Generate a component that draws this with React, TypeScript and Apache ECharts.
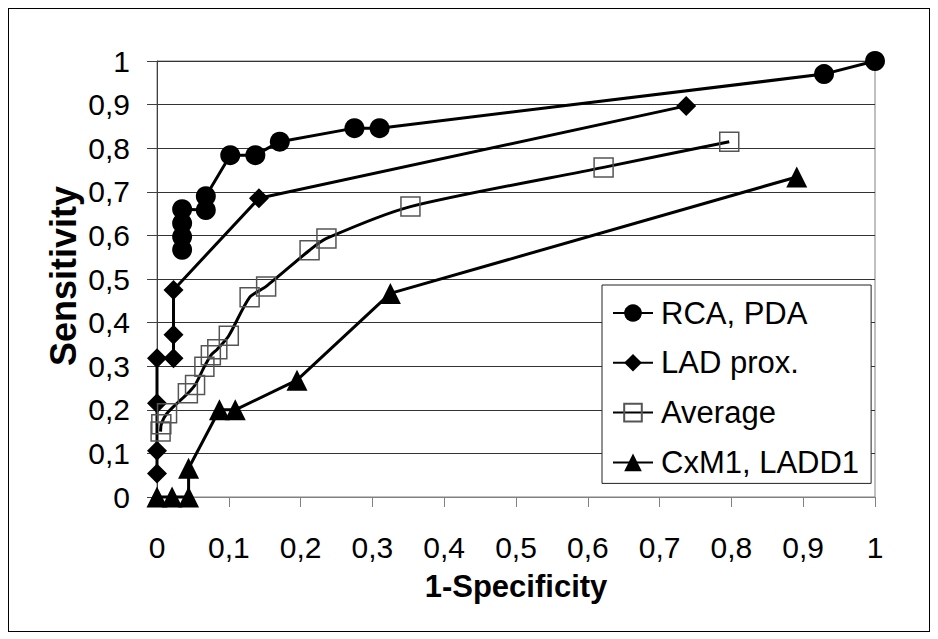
import React, { useEffect, useRef } from 'react';
import * as echarts from 'echarts';

const seriesNames = ['RCA, PDA', 'LAD prox.', 'Average', 'CxM1, LADD1'];

const rcaX = [0.035, 0.035, 0.035, 0.035, 0.068, 0.068, 0.102, 0.137, 0.171, 0.275, 0.31, 0.929, 1];
const rcaY = [0.567, 0.597, 0.628, 0.66, 0.658, 0.69, 0.784, 0.784, 0.815, 0.846, 0.846, 0.97, 1];

const ladX = [0, 0, 0, 0, 0.023, 0.023, 0.023, 0.142, 0.737];
const ladY = [0.054, 0.106, 0.215, 0.318, 0.318, 0.372, 0.475, 0.685, 0.897];

const avgX = [0.005, 0.006, 0.014, 0.043, 0.053, 0.066, 0.075, 0.084, 0.1, 0.129, 0.152, 0.2125, 0.236, 0.353, 0.622, 0.797];
const avgY = [0.15, 0.167, 0.192, 0.238, 0.257, 0.299, 0.325, 0.339, 0.37, 0.458, 0.483, 0.566, 0.593, 0.666, 0.756, 0.815];

const cxX = [0, 0.021, 0.044, 0.044, 0.087, 0.109, 0.195, 0.325, 0.891];
const cxY = [0, 0, 0, 0.066, 0.2, 0.2, 0.268, 0.467, 0.734];

const tickLabels = ['0', '0,1', '0,2', '0,3', '0,4', '0,5', '0,6', '0,7', '0,8', '0,9', '1'];

const xTitle = '1-Specificity';
const yTitle = 'Sensitivity';

const zip = (xs: number[], ys: number[]) => xs.map((x, i) => [x, ys[i]]);

export default function App() {
  const ref = useRef<HTMLDivElement>(null);
  useEffect(() => {
    const chart = echarts.init(ref.current!, null, { renderer: 'svg' });
    const FONT = '"Liberation Sans", Arial, sans-serif';
    const fmt = (v: number) => tickLabels[Math.round(v * 10)] ?? '';
    const base = {
      type: 'line',
      lineStyle: { color: '#000', width: 3 },
      symbolSize: 20,
      showSymbol: true,
      showAllSymbol: true,
      clip: false,
      silent: true,
      emphasis: { disabled: true },
    };
    chart.setOption({
      animation: false,
      grid: {
        left: 149,
        top: 53,
        right: 55,
        bottom: 135,
        show: true,
        borderColor: '#808080',
        borderWidth: 1,
        backgroundColor: 'transparent',
      },
      xAxis: {
        type: 'value',
        min: 0,
        max: 1,
        interval: 0.1,
        axisLine: { show: true, lineStyle: { color: '#808080', width: 1 } },
        axisTick: { show: true, inside: false, length: 10, lineStyle: { color: '#808080' } },
        splitLine: { show: false },
        axisLabel: { formatter: fmt, fontSize: 30, fontFamily: FONT, color: '#000', margin: 35 },
      },
      yAxis: {
        type: 'value',
        min: 0,
        max: 1,
        interval: 0.1,
        axisLine: { show: true, lineStyle: { color: '#404040', width: 1 } },
        axisTick: { show: true, inside: false, length: 10, lineStyle: { color: '#404040' } },
        splitLine: { show: true, lineStyle: { color: '#333', width: 1 } },
        axisLabel: { formatter: fmt, fontSize: 30, fontFamily: FONT, color: '#000', margin: 27 },
      },
      legend: {
        data: seriesNames,
        orient: 'vertical',
        left: 594,
        top: 277,
        itemWidth: 40,
        itemHeight: 22,
        itemGap: 13.8,
        padding: [10, 12, 3, 10],
        backgroundColor: '#fff',
        borderColor: '#222',
        borderWidth: 1,
        lineStyle: { width: 2 },
        selectedMode: false,
        textStyle: { fontSize: 31, fontFamily: FONT, color: '#000', lineHeight: 36, padding: [0, 0, 0, 3] },
      },
      graphic: [
        {
          type: 'text',
          x: 508,
          y: 578,
          style: { text: xTitle, font: `bold 31px ${FONT}`, fill: '#000', textAlign: 'center', textVerticalAlign: 'middle' },
        },
        {
          type: 'text',
          x: 55,
          y: 268,
          rotation: Math.PI / 2,
          style: { text: yTitle, font: `bold 36px ${FONT}`, fill: '#000', textAlign: 'center', textVerticalAlign: 'middle' },
        },
      ],
      series: [
        {
          ...base,
          name: seriesNames[0],
          symbol: 'circle',
          itemStyle: { color: '#000' },
          data: zip(rcaX, rcaY),
        },
        {
          ...base,
          name: seriesNames[1],
          symbol: 'diamond',
          itemStyle: { color: '#000' },
          data: zip(ladX, ladY),
        },
        {
          ...base,
          name: seriesNames[2],
          symbol: 'rect',
          symbolSize: 19,
          smooth: 0.25,
          itemStyle: { color: 'rgba(0,0,0,0)', borderColor: '#555', borderWidth: 1.5 },
          data: zip(avgX, avgY),
        },
        {
          ...base,
          name: seriesNames[3],
          symbol: 'triangle',
          symbolSize: 21,
          itemStyle: { color: '#000' },
          data: zip(cxX, cxY),
        },
      ],
    });
    return () => chart.dispose();
  }, []);
  return (
    <div style={{ position: 'relative', width: 922, height: 624 }}>
      <div ref={ref} style={{ position: 'absolute', left: 0, top: 0, width: 922, height: 624 }} />
      <div
        style={{
          position: 'absolute',
          left: 0,
          top: 0,
          width: 922,
          height: 624,
          border: '1px solid #000',
          boxSizing: 'border-box',
          pointerEvents: 'none',
        }}
      />
    </div>
  );
}
